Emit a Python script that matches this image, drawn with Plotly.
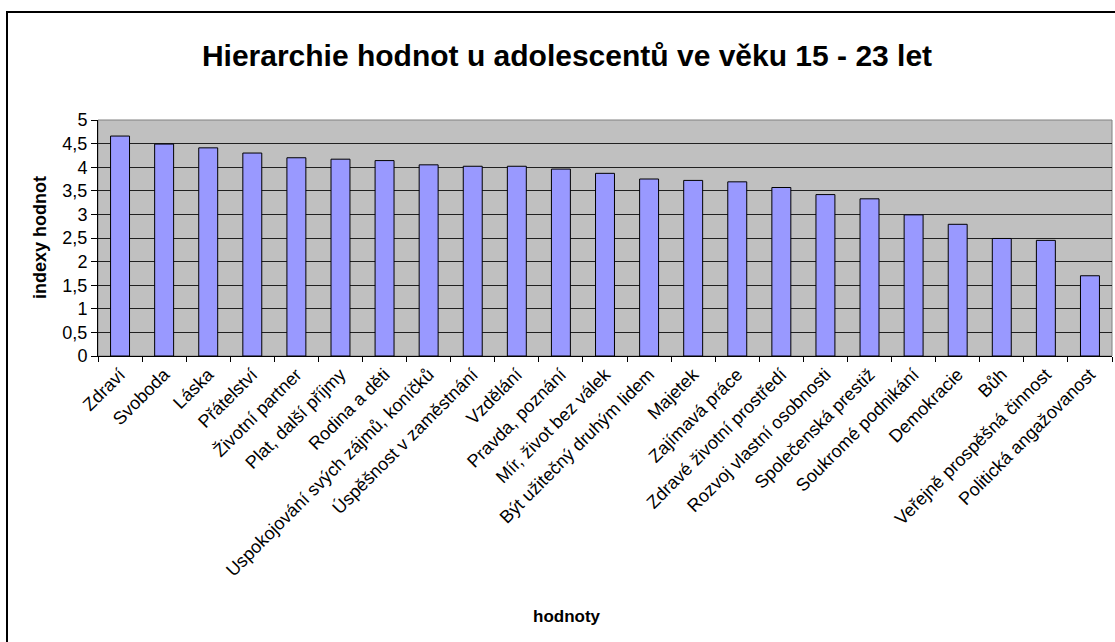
import plotly.graph_objects as go

categories = ["Zdraví", "Svoboda", "Láska", "Přátelství", "Životní partner", "Plat, další příjmy",
              "Rodina a děti", "Uspokojování svých zájmů, koníčků", "Úspěšnost v zaměstnání",
              "Vzdělání", "Pravda, poznání", "Mír, život bez válek", "Být užitečný druhým lidem",
              "Majetek", "Zajímavá práce", "Zdravé životní prostředí", "Rozvoj vlastní osobnosti",
              "Společenská prestiž", "Soukromé podnikání", "Demokracie", "Bůh",
              "Veřejně prospěšná činnost", "Politická angažovanost"]
values = [4.66, 4.49, 4.41, 4.30, 4.20, 4.17, 4.14, 4.05, 4.02, 4.02, 3.96, 3.87, 3.75,
          3.72, 3.69, 3.57, 3.42, 3.33, 2.99, 2.79, 2.49, 2.45, 1.70]
y_ticks = [0, 0.5, 1, 1.5, 2, 2.5, 3, 3.5, 4, 4.5, 5]

FONT = "Liberation Sans, Arial, sans-serif"

fig = go.Figure(go.Bar(
    x=categories, y=values,
    marker=dict(color="#9999FF", line=dict(color="black", width=1)),
))

W, H = 1115, 642
L, R, T, B = 98, 3, 120, 286
pw, ph = W - L - R, H - T - B

def px(x):
    return (x - L) / pw

def py(y):
    return (H - B - y) / ph

fig.update_layout(
    width=W, height=H,
    margin=dict(l=L, r=R, t=T, b=B, autoexpand=False),
    paper_bgcolor="white", plot_bgcolor="#C0C0C0",
    separators=", ",
    bargap=0.57,
    showlegend=False,
    font=dict(family=FONT, size=18, color="black"),
    title=dict(text="<b>Hierarchie hodnot u adolescentů ve věku 15 - 23 let</b>",
               x=px(567), xref="paper", xanchor="center",
               y=1 - 55 / H, yanchor="middle", yref="container",
               font=dict(family=FONT, size=30, color="black")),
    xaxis=dict(
        type="category", tickangle=-45, tickson="boundaries",
        ticks="outside", ticklen=5, tickcolor="black",
        showline=True, linecolor="black", linewidth=1,
        showgrid=False, automargin=False,
        tickfont=dict(family=FONT, size=18, color="black"),
    ),
    yaxis=dict(
        range=[0, 5], tickvals=y_ticks,
        ticks="outside", ticklen=6, tickcolor="black",
        showline=True, linecolor="black", linewidth=1,
        showgrid=True, gridcolor="#202020", gridwidth=1,
        zeroline=False, automargin=False,
        tickfont=dict(family=FONT, size=18, color="black"),
    ),
    annotations=[
        dict(text="<b>hodnoty</b>", xref="paper", yref="paper", x=px(567), y=py(616),
             showarrow=False, xanchor="center", yanchor="middle",
             font=dict(family=FONT, size=17, color="black")),
        dict(text="<b>indexy hodnot</b>", xref="paper", yref="paper", x=px(40), y=py(238),
             showarrow=False, xanchor="center", yanchor="middle", textangle=-90,
             font=dict(family=FONT, size=18, color="black")),
    ],
)

# plot-area frame (gray)
fig.add_shape(type="rect", xref="paper", yref="paper", x0=0, x1=1, y0=0, y1=1,
              line=dict(color="#808080", width=1), layer="below")
# outer chart border (cropped on right/bottom)
fig.add_shape(type="rect", xref="paper", yref="paper",
              x0=px(7), x1=px(1130), y0=py(660), y1=py(12),
              line=dict(color="black", width=2), fillcolor="rgba(0,0,0,0)")

fig.write_html("out.html", config={"displayModeBar": False},
               post_script="document.body.style.margin='0';document.body.style.overflow='hidden';")
